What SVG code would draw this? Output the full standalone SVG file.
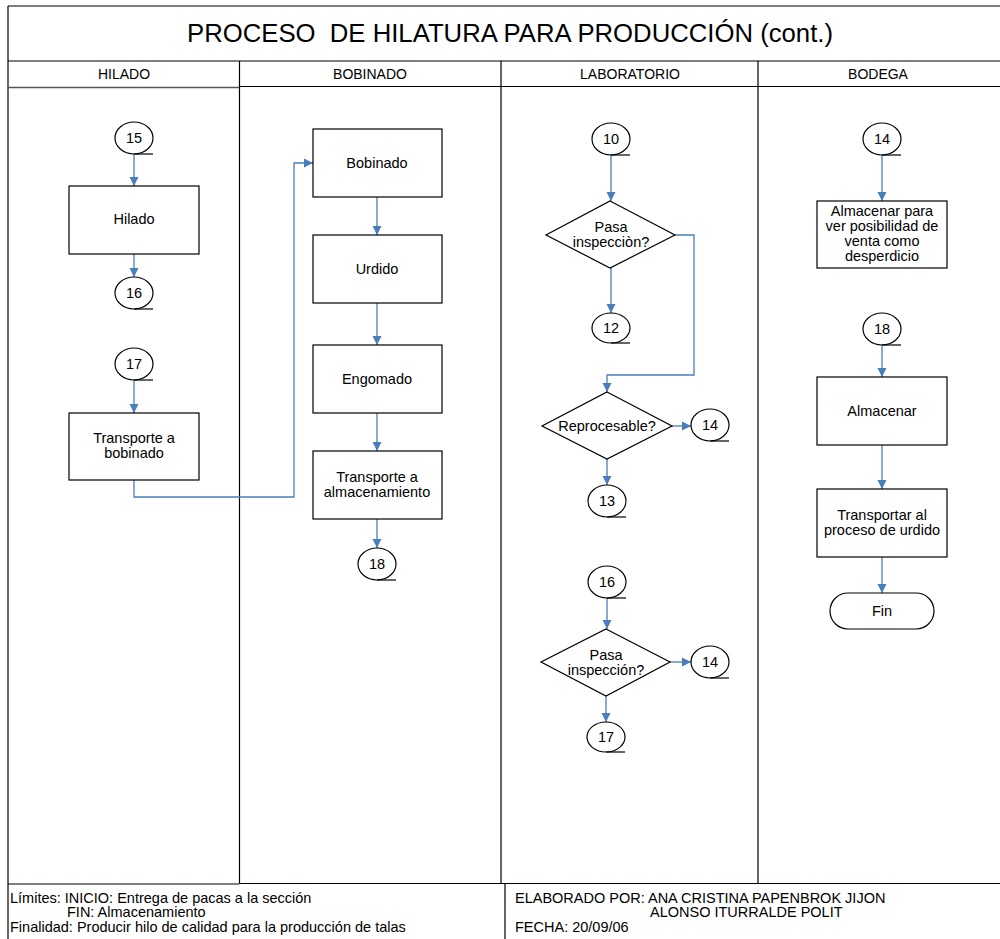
<svg xmlns="http://www.w3.org/2000/svg" width="1000" height="939" viewBox="0 0 1000 939">
<defs>
<marker id="ah" markerUnits="userSpaceOnUse" markerWidth="10" markerHeight="10" refX="9" refY="5" orient="auto" viewBox="0 0 10 10">
<path d="M0,0.5 L9,5 L0,9.5 z" fill="#4a7ebb"/>
</marker>
<style>
text{font-family:"Liberation Sans",Arial,sans-serif;fill:#000;}
.t{font-size:14.5px;text-anchor:middle;}
.h{font-size:14px;text-anchor:middle;}
.f{font-size:14.5px;white-space:pre;}
.box{fill:#fff;stroke:#000;stroke-width:1.2;}
.cir{fill:#fff;stroke:#000;stroke-width:1.2;}
.ul{stroke:#000;stroke-width:1.2;fill:none;}
.fr{stroke:#555;stroke-width:1.5;fill:none;}
.ln{stroke:#000;stroke-width:1.2;fill:none;}
.c{stroke:#4a7ebb;stroke-width:1.3;fill:none;marker-end:url(#ah);}
</style>
</defs>
<rect width="1000" height="939" fill="#fff"/>
<g id="frame">
<line class="fr" x1="8" y1="6" x2="1000" y2="6"/>
<line class="fr" x1="8" y1="61" x2="1000" y2="61"/>
<line class="ln" x1="8" y1="6" x2="8" y2="939"/>
<line class="fr" x1="8" y1="87.5" x2="239" y2="87.5"/>
<line class="ln" x1="239" y1="86.5" x2="1000" y2="86.5"/>
<line class="ln" x1="239.5" y1="61" x2="239.5" y2="884"/>
<line class="ln" x1="501" y1="61" x2="501" y2="884"/>
<line class="ln" x1="758" y1="61" x2="758" y2="884"/>
<line class="ln" x1="8" y1="884" x2="239" y2="884"/>
<line class="ln" x1="239" y1="883.5" x2="1000" y2="883.5"/>
<line class="ln" x1="505" y1="884" x2="505" y2="939"/>
<text x="510" y="42" textLength="646" lengthAdjust="spacingAndGlyphs" style="font-size:25.5px;text-anchor:middle;white-space:pre">PROCESO  DE HILATURA PARA PRODUCCIÓN (cont.)</text>
<text class="h" x="124" y="79">HILADO</text>
<text class="h" x="370" y="79">BOBINADO</text>
<text class="h" x="630" y="79">LABORATORIO</text>
<text class="h" x="878" y="79">BODEGA</text>
</g>
<g id="footer">
<text class="f" x="10" y="903">Límites: INICIO: Entrega de pacas a la sección</text>
<text class="f" x="67" y="917">FIN: Almacenamiento</text>
<text class="f" x="10" y="932">Finalidad: Producir hilo de calidad para la producción de talas</text>
<text class="f" x="515" y="903">ELABORADO POR: ANA CRISTINA PAPENBROK JIJON</text>
<text class="f" x="650" y="917">ALONSO ITURRALDE POLIT</text>
<text class="f" x="515" y="932">FECHA: 20/09/06</text>
</g>
<g id="connectors">
<line class="c" x1="134" y1="154" x2="134" y2="186"/>
<line class="c" x1="134" y1="254" x2="134" y2="277"/>
<line class="c" x1="134" y1="380" x2="134" y2="413"/>
<path class="c" d="M134,480 V497 H294 V163 H313"/>
<line class="c" x1="377" y1="197" x2="377" y2="235"/>
<line class="c" x1="377" y1="303" x2="377" y2="345"/>
<line class="c" x1="377" y1="413" x2="377" y2="451"/>
<line class="c" x1="377" y1="519" x2="377" y2="548"/>
<line class="c" x1="611" y1="155" x2="611" y2="201"/>
<line class="c" x1="611" y1="268" x2="611" y2="313"/>
<path class="c" d="M675,235 H694 V375 H607 V392"/>
<line class="c" x1="672" y1="426" x2="691" y2="426"/>
<line class="c" x1="607" y1="459" x2="607" y2="485"/>
<line class="c" x1="607" y1="598" x2="607" y2="629"/>
<line class="c" x1="670" y1="662" x2="691" y2="662"/>
<line class="c" x1="606" y1="696" x2="606" y2="722"/>
<line class="c" x1="882" y1="155" x2="882" y2="201"/>
<line class="c" x1="882" y1="345" x2="882" y2="377"/>
<line class="c" x1="882" y1="445" x2="882" y2="489"/>
<line class="c" x1="882" y1="557" x2="882" y2="593"/>
</g>
<g id="c15"><ellipse class="cir" cx="134" cy="138" rx="19" ry="16"/><path class="ul" d="M134,154 H153"/><text class="t" x="134" y="143">15</text></g>
<g id="hilado"><rect class="box" x="69" y="186" width="130" height="68"/><text class="t" x="134" y="224">Hilado</text></g>
<g id="c16a"><ellipse class="cir" cx="134" cy="293" rx="19" ry="16"/><path class="ul" d="M134,309 H153"/><text class="t" x="134" y="298">16</text></g>
<g id="c17a"><ellipse class="cir" cx="134" cy="364" rx="19" ry="16"/><path class="ul" d="M134,380 H153"/><text class="t" x="134" y="369">17</text></g>
<g id="transporte-bobinado"><rect class="box" x="69" y="413" width="130" height="67"/><text class="t" x="134" y="443">Transporte a</text><text class="t" x="134" y="458">bobinado</text></g>
<g id="bobinado"><rect class="box" x="313" y="129" width="129" height="68"/><text class="t" x="377" y="168">Bobinado</text></g>
<g id="urdido"><rect class="box" x="313" y="235" width="129" height="68"/><text class="t" x="377" y="274">Urdido</text></g>
<g id="engomado"><rect class="box" x="313" y="345" width="129" height="68"/><text class="t" x="377" y="384">Engomado</text></g>
<g id="transporte-alm"><rect class="box" x="313" y="451" width="129" height="68"/><text class="t" x="377" y="482">Transporte a</text><text class="t" x="377" y="497">almacenamiento</text></g>
<g id="c18a"><ellipse class="cir" cx="377" cy="564" rx="19" ry="16"/><path class="ul" d="M377,580 H396"/><text class="t" x="377" y="569">18</text></g>
<g id="c10"><ellipse class="cir" cx="611" cy="139" rx="19" ry="16"/><path class="ul" d="M611,155 H630"/><text class="t" x="611" y="144">10</text></g>
<g id="d1"><polygon class="box" points="610,201 675,235 610,268 546,235"/><text class="t" x="611" y="232">Pasa</text><text class="t" x="611" y="247">inspecciòn?</text></g>
<g id="c12"><ellipse class="cir" cx="611" cy="328" rx="19" ry="15"/><path class="ul" d="M611,343 H630"/><text class="t" x="611" y="333">12</text></g>
<g id="d2"><polygon class="box" points="607,392 672,426 607,459 542,426"/><text class="t" x="607" y="431">Reprocesable?</text></g>
<g id="c14a"><ellipse class="cir" cx="710" cy="425" rx="19" ry="16"/><path class="ul" d="M710,441 H729"/><text class="t" x="710" y="430">14</text></g>
<g id="c13"><ellipse class="cir" cx="607" cy="501" rx="19" ry="16"/><path class="ul" d="M607,517 H626"/><text class="t" x="607" y="506">13</text></g>
<g id="c16b"><ellipse class="cir" cx="607" cy="582" rx="19" ry="16"/><path class="ul" d="M607,598 H626"/><text class="t" x="607" y="587">16</text></g>
<g id="d3"><polygon class="box" points="606,629 670,662 606,696 541,662"/><text class="t" x="606" y="660">Pasa</text><text class="t" x="606" y="675">inspección?</text></g>
<g id="c14b"><ellipse class="cir" cx="710" cy="662" rx="19" ry="16"/><path class="ul" d="M710,678 H729"/><text class="t" x="710" y="667">14</text></g>
<g id="c17b"><ellipse class="cir" cx="606" cy="737" rx="19" ry="15"/><path class="ul" d="M606,752 H625"/><text class="t" x="606" y="742">17</text></g>
<g id="c14c"><ellipse class="cir" cx="882" cy="139" rx="19" ry="16"/><path class="ul" d="M882,155 H901"/><text class="t" x="882" y="144">14</text></g>
<g id="almacenar-desperdicio"><rect class="box" x="817" y="201" width="130" height="67"/><text class="t" x="882" y="216">Almacenar para</text><text class="t" x="882" y="231">ver posibilidad de</text><text class="t" x="882" y="246">venta como</text><text class="t" x="882" y="261">desperdicio</text></g>
<g id="c18b"><ellipse class="cir" cx="882" cy="329" rx="19" ry="16"/><path class="ul" d="M882,345 H901"/><text class="t" x="882" y="334">18</text></g>
<g id="almacenar"><rect class="box" x="817" y="377" width="130" height="68"/><text class="t" x="882" y="416">Almacenar</text></g>
<g id="transportar-urdido"><rect class="box" x="817" y="489" width="130" height="68"/><text class="t" x="882" y="520">Transportar al</text><text class="t" x="882" y="535">proceso de urdido</text></g>
<g id="fin"><rect class="box" x="830" y="593" width="104" height="36" rx="18" ry="18"/><text class="t" x="882" y="616">Fin</text></g>
</svg>
